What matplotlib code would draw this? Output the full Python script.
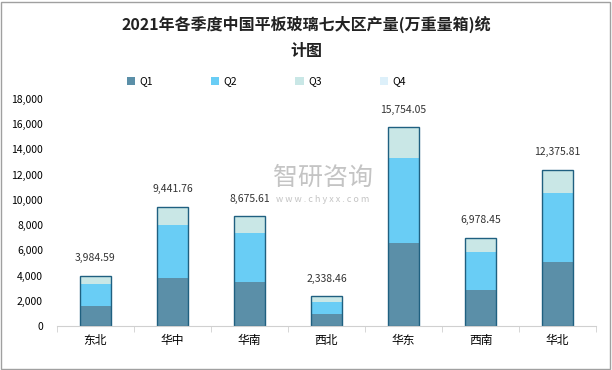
import matplotlib
matplotlib.use('Agg')
import matplotlib.pyplot as plt
from matplotlib.patches import Rectangle, Patch
from matplotlib.ticker import FuncFormatter
import numpy as np

plt.rcParams['font.family'] = ['Noto Sans CJK SC', 'DejaVu Sans']

# 数据
regions = ['东北', '华中', '华南', '西北', '华东', '西南', '华北']
q1 = [1586, 3806, 3489, 952, 6582, 2855, 5075]
q2 = [1769, 4204, 3886, 951, 6741, 3013, 5472]
q3 = [630, 1432, 1301, 435, 2431, 1110, 1829]
q4 = [0, 0, 0, 0, 0, 0, 0]
totals = [3984.59, 9441.76, 8675.61, 2338.46, 15754.05, 6978.45, 12375.81]

colors = ['#5B8FA8', '#69CDF5', '#C9E7E6', '#DDF0FA']

fig = plt.figure(figsize=(6.12, 3.70), dpi=100)
ax = fig.add_axes([0.093, 0.119, 0.881, 0.614])

# 水印
fig.text(0.528, 0.52, '智研咨询', ha='center', va='center', fontsize=18, color='#C4C4C4', zorder=0)
fig.text(0.528, 0.462, 'w w w . c h y x x . c o m', ha='center', va='center', fontsize=6.5,
         color='#C4C4C4', zorder=0)
ax.patch.set_alpha(0)

x = np.arange(len(regions))
w = 0.4
bottom = np.zeros(len(regions))
for vals, c in zip([q1, q2, q3, q4], colors):
    ax.bar(x, vals, w, bottom=bottom, color=c, linewidth=0)
    bottom += np.array(vals)

# 整体外框
ax.bar(x, totals, w, fill=False, edgecolor='#1F6080', linewidth=1.0)

for xi, t in zip(x, totals):
    ax.text(xi, t + 1000, f'{t:,.2f}', ha='center', va='bottom', fontsize=7.5, color='#333333')

ax.set_xlim(-0.5, len(regions) - 0.5)
ax.set_ylim(0, 18000)
ax.set_yticks(range(0, 18001, 2000))
ax.yaxis.set_major_formatter(FuncFormatter(lambda v, p: f'{int(v):,}'))
ax.set_xticks(x)
ax.set_xticklabels(regions, fontsize=8.5)
ax.set_xticks(np.arange(-0.5, len(regions), 1), minor=True)
ax.tick_params(axis='x', which='major', length=0, pad=6)
ax.tick_params(axis='x', which='minor', length=4, color='#D0D0D0')
ax.tick_params(axis='y', length=0, labelsize=7.5, pad=10)
for s in ['top', 'right', 'left']:
    ax.spines[s].set_visible(False)
ax.spines['bottom'].set_color('#D0D0D0')

fig.text(0.5, 0.935, '2021年各季度中国平板玻璃七大区产量(万重量箱)统', ha='center', va='center',
         fontsize=11.5, fontweight='bold', color='#222222')
fig.text(0.5, 0.862, '计图', ha='center', va='center', fontsize=11.5, fontweight='bold', color='#222222')

handles = [Patch(facecolor=c, label=l) for c, l in zip(colors, ['Q1', 'Q2', 'Q3', 'Q4'])]
fig.legend(handles=handles, loc='center', bbox_to_anchor=(0.435, 0.78), ncol=4, frameon=False,
           fontsize=7.5, handlelength=0.8, handleheight=0.8, handletextpad=0.4, columnspacing=5.6)

fig.patches.append(Rectangle((0.002, 0.003), 0.994, 0.992, transform=fig.transFigure,
                             fill=False, edgecolor='#A0A0A0', linewidth=1))

fig.savefig('out.png', dpi=100)
